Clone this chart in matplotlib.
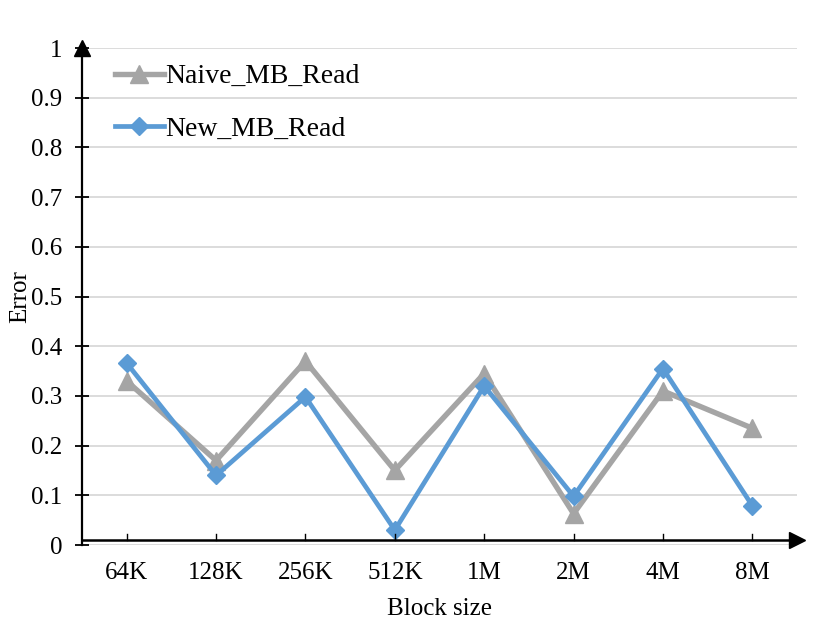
import matplotlib
matplotlib.use("Agg")
import matplotlib.pyplot as plt

categories = ["64K", "128K", "256K", "512K", "1M", "2M", "4M", "8M"]
naive_mb_read = [0.33, 0.17, 0.37, 0.15, 0.345, 0.063, 0.31, 0.235]
new_mb_read = [0.366, 0.14, 0.298, 0.03, 0.32, 0.098, 0.355, 0.079]
yticks = [0, 0.1, 0.2, 0.3, 0.4, 0.5, 0.6, 0.7, 0.8, 0.9, 1]
ytick_labels = ["0", "0.1", "0.2", "0.3", "0.4", "0.5", "0.6", "0.7", "0.8", "0.9", "1"]

plt.rcParams['font.family'] = ['Liberation Serif', 'DejaVu Serif']

fig = plt.figure(figsize=(8.3, 6.23), dpi=100)
ax = fig.add_axes([82/830, 78/623, 715/830, 497/623])

x = list(range(len(categories)))
ax.plot(x, naive_mb_read, color="#A5A5A5", lw=3.9, marker="^", ms=12.5,
        label="Naive_MB_Read", zorder=3, clip_on=False)
ax.plot(x, new_mb_read, color="#5B9BD5", lw=3.4, marker="D", ms=9.5,
        label="New_MB_Read", zorder=4, clip_on=False)

ax.set_xlim(-0.5, 7.5)
ax.set_ylim(0, 1)
ax.set_yticks(yticks)
ax.set_yticklabels(ytick_labels)
ax.set_xticks(x)
ax.set_xticklabels(categories)

for y in yticks:
    ax.axhline(y, color="#D9D9D9", lw=1.3, zorder=0)

for s in ["top", "right", "bottom"]:
    ax.spines[s].set_visible(False)
ax.spines["left"].set_linewidth(1.6)
ax.spines["left"].set_bounds(0, 1)

# x axis line slightly above zero, as in reference
ax.axhline(0.011, color="black", lw=1.8, zorder=5, clip_on=False)
ax.plot([1.0], [0.011], marker=">", color="black", ms=11, transform=ax.get_yaxis_transform(),
        clip_on=False, zorder=6)
ax.plot([0], [1.0], marker="^", color="black", ms=11, transform=ax.get_yaxis_transform(),
        clip_on=False, zorder=6)
for xi in x:
    ax.plot([xi, xi], [0.011, 0.011 + 0.012], color="black", lw=1.0, zorder=5)

ax.tick_params(axis="y", direction="inout", length=10, width=1.3, labelsize=18, pad=9)
ax.tick_params(axis="x", length=0, labelsize=18, pad=12)

ax.set_xlabel("Block size", fontsize=18, labelpad=10)
ax.set_ylabel("Error", fontsize=18, labelpad=0)

leg = ax.legend(loc="upper left", bbox_to_anchor=(0.046, 0.968), frameon=False,
                fontsize=20, handlelength=1.75, handletextpad=0.05, labelspacing=0.98,
                borderaxespad=0.0, borderpad=0.0)

fig.savefig("out.png", dpi=100)
